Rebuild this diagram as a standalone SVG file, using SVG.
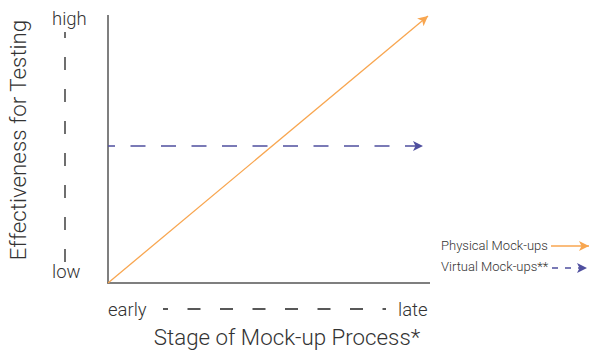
<svg xmlns="http://www.w3.org/2000/svg" width="599" height="352" viewBox="0 0 599 352">
<style>
text{font-family:Roboto,"Liberation Sans",sans-serif;font-weight:300;fill:#333}
.axis{stroke:#555;stroke-width:1.5;fill:none}
.dash{stroke:#222;stroke-width:1.3;fill:none}
.phys{stroke:#F8A650;stroke-width:1.3;fill:none}
.virt{stroke:#4F4F9F;stroke-width:1.3;fill:none}
</style>
<defs>
<marker id="ao" viewBox="0 0 10 10" refX="10" refY="5" markerWidth="10" markerHeight="10" markerUnits="userSpaceOnUse" orient="auto"><path d="M0,0 L10,5 L0,10 L2.5,5 Z" fill="#F8A650"/></marker>
<marker id="ab" viewBox="0 0 10 10" refX="10" refY="5" markerWidth="10" markerHeight="10" markerUnits="userSpaceOnUse" orient="auto"><path d="M0,0 L10,5 L0,10 L2.5,5 Z" fill="#4F4F9F"/></marker>
</defs>
<g id="axes">
<line class="axis" x1="108" y1="15" x2="108" y2="283.5"/>
<line class="axis" x1="107.3" y1="283" x2="430" y2="283"/>
</g>
<g id="y-scale">
<text x="52" y="25" font-size="18.5">high</text>
<line class="dash" x1="65" y1="32" x2="65" y2="262" stroke-dasharray="13 19" stroke-dashoffset="7"/>
<text x="52" y="278" font-size="18.5">low</text>
<text transform="translate(25.5,140) rotate(-90)" text-anchor="middle" font-size="22.3">Effectiveness for Testing</text>
</g>
<g id="x-scale">
<text x="108" y="316" font-size="18.5">early</text>
<line class="dash" x1="163" y1="309" x2="386" y2="309" stroke-dasharray="13 19.5" stroke-dashoffset="8"/>
<text x="398" y="316" font-size="18.5">late</text>
<text x="287" y="345" text-anchor="middle" font-size="22.3">Stage of Mock-up Process*</text>
</g>
<g id="connectors">
<line class="phys" x1="108" y1="283" x2="428" y2="16" marker-end="url(#ao)"/>
<line class="virt" x1="108" y1="146" x2="423" y2="146" stroke-dasharray="15 15.5" stroke-dashoffset="8" marker-end="url(#ab)"/>
</g>
<g id="legend">
<text x="441" y="250" font-size="13">Physical Mock-ups</text>
<line class="phys" x1="551" y1="246" x2="589" y2="246" marker-end="url(#ao)"/>
<text x="441" y="271" font-size="13">Virtual Mock-ups**</text>
<line class="virt" x1="552" y1="268" x2="587" y2="268" stroke-dasharray="6 7" marker-end="url(#ab)"/>
</g>
</svg>
